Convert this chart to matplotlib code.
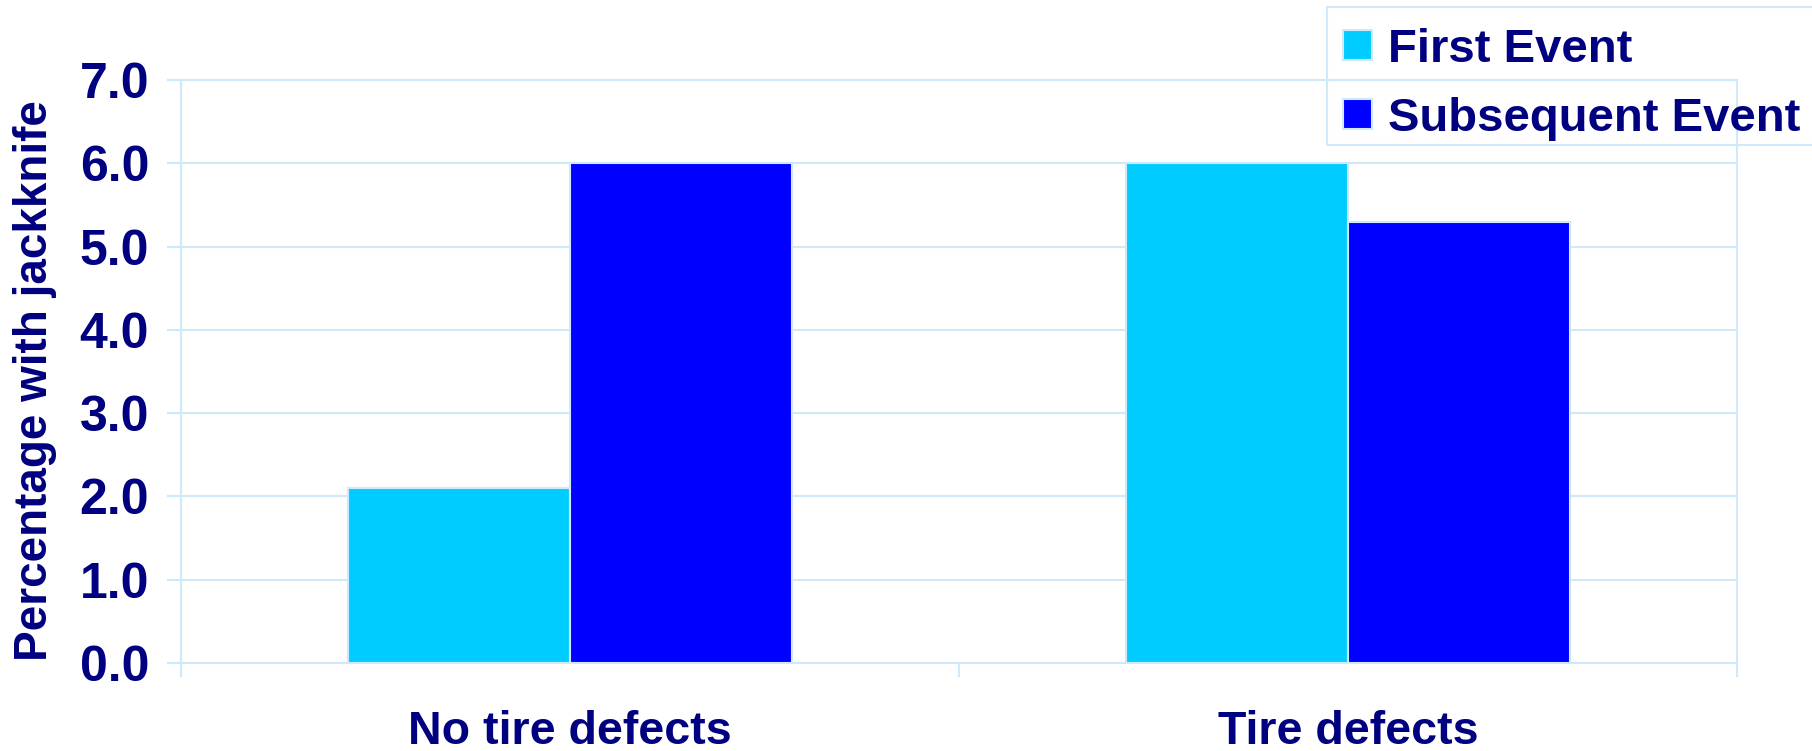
import matplotlib.pyplot as plt
from matplotlib.patches import Rectangle
import numpy as np

# values, percent of events with jackknife
categories = ["No tire defects", "Tire defects"]
series = ["First Event", "Subsequent Event"]
first_event = [2.1, 6.0]
subsequent_event = [6.0, 5.3]
yticks = [0.0, 1.0, 2.0, 3.0, 4.0, 5.0, 6.0, 7.0]

navy = "#000080"
pale = "#cfe9fb"
colors = ["#00ccff", "#0000ff"]

plt.rcParams["font.family"] = ["Liberation Sans", "DejaVu Sans"]
plt.rcParams["font.weight"] = "bold"

W, H = 1812, 751
fig = plt.figure(figsize=(W / 100, H / 100), dpi=100)
ax = fig.add_axes([181 / W, 88 / H, (1737 - 181) / W, (663 - 80) / H])

x = np.arange(len(categories))
width = 0.285
ax.bar(x - width / 2, first_event, width, color=colors[0], edgecolor=pale,
       linewidth=1.5, zorder=3)
ax.bar(x + width / 2, subsequent_event, width, color=colors[1], edgecolor=pale,
       linewidth=1.5, zorder=3)

ax.set_xlim(-0.5, len(categories) - 0.5)
ax.set_ylim(0, 7)
ax.set_yticks(yticks)
ax.set_yticklabels([f"{v:.1f}" for v in yticks])
ax.set_xticks(x)
ax.set_xticklabels(categories)
ax.set_xticks(np.arange(len(categories) + 1) - 0.5, minor=True)

ax.grid(axis="y", color=pale, linewidth=1.5, zorder=0)
ax.set_axisbelow(True)
for s in ax.spines.values():
    s.set_color(pale)
    s.set_linewidth(1.5)

ax.tick_params(axis="y", which="major", length=10, width=1.5, color=pale,
               labelsize=36, labelcolor=navy, pad=13)
ax.tick_params(axis="x", which="major", length=0, labelsize=33.5,
               labelcolor=navy, pad=34)
ax.tick_params(axis="x", which="minor", length=10, width=1.5, color=pale)

ax.set_ylabel("Percentage with jackknife", fontsize=33, color=navy,
              fontweight="bold")
ax.yaxis.set_label_coords(-0.0797, 0.485)

# legend box, drawn by hand in pixel positions
fig.patches.append(Rectangle((1327 / W, 1 - 145 / H), 600 / W, 138 / H,
                             transform=fig.transFigure, facecolor="none",
                             edgecolor=pale, linewidth=1.5))
for i, (name, c) in enumerate(zip(series, colors)):
    top = 30 + i * 69
    fig.patches.append(Rectangle((1343 / W, 1 - (top + 30) / H), 29 / W, 30 / H,
                                 transform=fig.transFigure, facecolor=c,
                                 edgecolor=pale, linewidth=1.5))
    fig.text(1388 / W, 1 - (top + 20) / H, name, fontsize=34, color=navy,
             fontweight="bold", va="center", ha="left")

fig.savefig("out.png", dpi=100)
